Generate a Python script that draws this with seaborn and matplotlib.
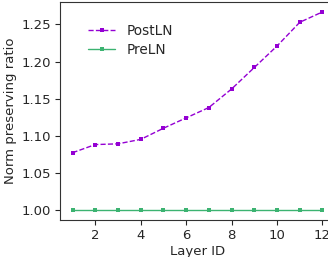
import pandas as pd
import matplotlib
matplotlib.use("Agg")
import matplotlib.pyplot as plt
import seaborn as sns

layers = list(range(1, 13))
post_ln = [1.077, 1.088, 1.089, 1.095, 1.110, 1.124, 1.138, 1.163, 1.192, 1.221, 1.253, 1.267]
pre_ln = [1.0] * 12

sns.set_style("ticks")
plt.rcParams['font.family'] = ['DejaVu Sans']
fs = 9.5

fig = plt.figure(figsize=(3.28, 2.57), dpi=100)
# axes runs past the right edge, as the reference is cropped there
ax = fig.add_axes([60 / 328, 1 - 219.7 / 257, 275 / 328, 217.7 / 257])

sns.lineplot(x=layers, y=post_ln, ax=ax, color='#9400D3', linestyle='--', linewidth=1,
             marker='s', markersize=3.5, markeredgewidth=0, label='PostLN')
sns.lineplot(x=layers, y=pre_ln, ax=ax, color='mediumseagreen', linestyle='-', linewidth=1,
             marker='s', markersize=3.5, markeredgewidth=0, label='PreLN')

ax.set_xticks([2, 4, 6, 8, 10, 12])
ax.set_yticks([1.00, 1.05, 1.10, 1.15, 1.20, 1.25])
ax.set_yticklabels(['1.00', '1.05', '1.10', '1.15', '1.20', '1.25'])
ax.tick_params(labelsize=fs, pad=3)
ax.set_xlabel('Layer ID', fontsize=fs, labelpad=2)
ax.set_ylabel('Norm preserving ratio', fontsize=fs, labelpad=3)
ax.legend(loc='upper left', frameon=False, fontsize=fs + 0.3, labelspacing=0.35,
          bbox_to_anchor=(0.058, 0.955))
for s in ax.spines.values():
    s.set_color('#333333')

fig.savefig('out.png', dpi=100)
